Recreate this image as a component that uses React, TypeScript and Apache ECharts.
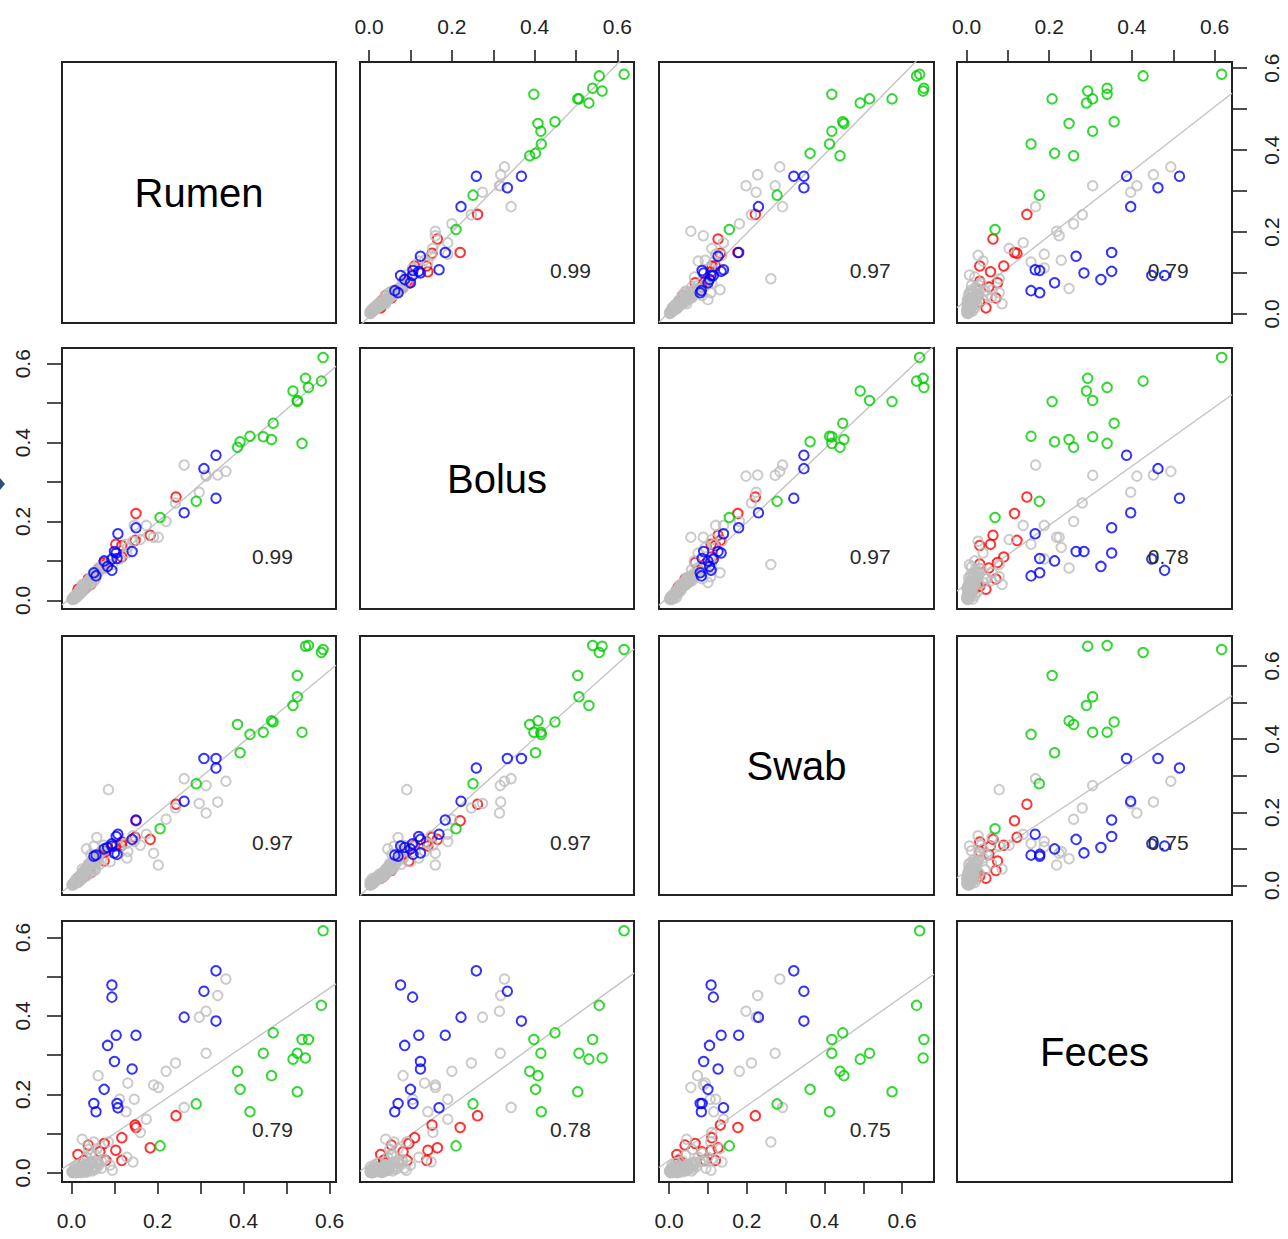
import React, { useEffect, useRef } from 'react';
import * as echarts from 'echarts';

const VARIABLES = ['Rumen', 'Bolus', 'Swab', 'Feces'];

// Correlation labels (symmetric)
const CORR_LABELS = [
  ['', '0.99', '0.97', '0.79'],
  ['0.99', '', '0.97', '0.78'],
  ['0.97', '0.97', '', '0.75'],
  ['0.79', '0.78', '0.75', ''],
];

const TICK_VALUES = [0, 0.1, 0.2, 0.3, 0.4, 0.5, 0.6];
const LABEL_VALUES = [0, 0.2, 0.4, 0.6];
const TICK_LABELS = ['0.0', '0.2', '0.4', '0.6'];

// Axis ranges per variable (Rumen, Bolus, Swab, Feces)
const AXIS_MIN = [-0.022, -0.022, -0.026, -0.023];
const AXIS_MAX = [0.615, 0.64, 0.682, 0.642];

// ---- green group ----
const GREEN_RUMEN = [0.585, 0.581, 0.469, 0.536, 0.551, 0.446, 0.525, 0.515, 0.544, 0.386, 0.465, 0.392, 0.525, 0.415, 0.29, 0.206];
const GREEN_BOLUS = [0.616, 0.556, 0.449, 0.398, 0.54, 0.415, 0.507, 0.531, 0.563, 0.388, 0.408, 0.402, 0.504, 0.416, 0.251, 0.21];
const GREEN_SWAB = [0.645, 0.637, 0.447, 0.419, 0.656, 0.419, 0.516, 0.492, 0.654, 0.44, 0.45, 0.363, 0.574, 0.413, 0.278, 0.155];
const GREEN_FECES = [0.617, 0.427, 0.357, 0.34, 0.34, 0.305, 0.305, 0.29, 0.293, 0.259, 0.248, 0.213, 0.207, 0.156, 0.176, 0.069];

// ---- blue group ----
const BLUE_RUMEN = [0.336, 0.094, 0.094, 0.308, 0.262, 0.336, 0.104, 0.15, 0.084, 0.1, 0.141, 0.076, 0.052, 0.057, 0.106, 0.108];
const BLUE_BOLUS = [0.259, 0.076, 0.105, 0.334, 0.222, 0.368, 0.12, 0.184, 0.086, 0.124, 0.124, 0.1, 0.07, 0.062, 0.106, 0.169];
const BLUE_SWAB = [0.321, 0.108, 0.114, 0.347, 0.23, 0.347, 0.134, 0.179, 0.104, 0.089, 0.126, 0.1, 0.08, 0.083, 0.085, 0.14];
const BLUE_FECES = [0.515, 0.479, 0.448, 0.463, 0.397, 0.387, 0.351, 0.351, 0.325, 0.284, 0.265, 0.213, 0.177, 0.156, 0.177, 0.166];

// ---- red group ----
const RED_RUMEN = [0.243, 0.148, 0.15, 0.117, 0.183, 0.076, 0.039, 0.103, 0.066, 0.117, 0.08, 0.015, 0.029, 0.01, 0.02, 0.032, 0.045];
const RED_BOLUS = [0.262, 0.152, 0.22, 0.11, 0.165, 0.096, 0.054, 0.142, 0.082, 0.139, 0.092, 0.028, 0.035, 0.012, 0.025, 0.03, 0.04];
const RED_SWAB = [0.222, 0.132, 0.177, 0.11, 0.126, 0.067, 0.041, 0.108, 0.084, 0.119, 0.093, 0.02, 0.025, 0.01, 0.02, 0.028, 0.035];
const RED_FECES = [0.146, 0.122, 0.116, 0.09, 0.064, 0.075, 0.071, 0.058, 0.054, 0.032, 0.032, 0.047, 0.032, 0.005, 0.012, 0.02, 0.025];

// ---- gray group ----
const GRAY_RUMEN = [
  0.359, 0.34, 0.313, 0.297, 0.313, 0.242, 0.22, 0.062, 0.131, 0.191, 0.202, 0.112, 0.146, 0.127, 0.262, 0.174,
  0.16, 0.086, 0.025, 0.052, 0.059, 0.143, 0.129, 0.04, 0.07, 0.09, 0.056, 0.095, 0.035, 0.045,
  0.002, 0.004, 0.006, 0.008, 0.01, 0.012, 0.014, 0.016, 0.018, 0.02, 0.022, 0.024, 0.026, 0.028, 0.03, 0.033,
  0.036, 0.04, 0.043, 0.046, 0.05, 0.055, 0.06, 0.065, 0.07, 0.075, 0.007, 0.015, 0.025, 0.035, 0.045, 0.052,
  0.003, 0.005, 0.009, 0.011, 0.013, 0.017, 0.019, 0.021, 0.023, 0.027, 0.029, 0.031, 0.034, 0.037, 0.041, 0.044,
  0.048, 0.053, 0.058, 0.062, 0.001, 0.006, 0.012, 0.018,
];
const GRAY_BOLUS = [
  0.327, 0.318, 0.315, 0.274, 0.317, 0.247, 0.2, 0.082, 0.134, 0.16, 0.16, 0.105, 0.19, 0.142, 0.343, 0.19,
  0.154, 0.091, 0.04, 0.06, 0.07, 0.15, 0.12, 0.05, 0.08, 0.1, 0.055, 0.09, 0.045, 0.055,
  0.004, 0.006, 0.008, 0.01, 0.012, 0.015, 0.018, 0.02, 0.022, 0.026, 0.028, 0.03, 0.034, 0.036, 0.04, 0.043,
  0.046, 0.05, 0.055, 0.058, 0.062, 0.068, 0.072, 0.078, 0.085, 0.08, 0.003, 0.012, 0.022, 0.032, 0.04, 0.048,
  0.002, 0.004, 0.007, 0.013, 0.01, 0.016, 0.024, 0.018, 0.03, 0.025, 0.038, 0.035, 0.04, 0.044, 0.047, 0.052,
  0.057, 0.06, 0.066, 0.07, 0.003, 0.009, 0.008, 0.014,
];
const GRAY_SWAB = [
  0.285, 0.228, 0.198, 0.224, 0.273, 0.212, 0.181, 0.073, 0.093, 0.088, 0.056, 0.106, 0.12, 0.115, 0.292, 0.14,
  0.11, 0.262, 0.045, 0.107, 0.131, 0.136, 0.075, 0.06, 0.09, 0.065, 0.043, 0.108, 0.1, 0.085,
  0.003, 0.005, 0.006, 0.009, 0.014, 0.012, 0.017, 0.022, 0.02, 0.025, 0.03, 0.028, 0.035, 0.038, 0.042, 0.045,
  0.05, 0.055, 0.06, 0.048, 0.065, 0.07, 0.08, 0.058, 0.095, 0.11, 0.011, 0.008, 0.018, 0.026, 0.035, 0.04,
  0.004, 0.002, 0.008, 0.01, 0.015, 0.013, 0.018, 0.024, 0.022, 0.031, 0.027, 0.036, 0.03, 0.041, 0.052, 0.046,
  0.058, 0.05, 0.062, 0.068, 0.001, 0.004, 0.019, 0.011,
];
const GRAY_FECES = [
  0.494, 0.452, 0.412, 0.397, 0.305, 0.28, 0.259, 0.248, 0.229, 0.224, 0.218, 0.188, 0.188, 0.156, 0.167, 0.137,
  0.103, 0.079, 0.086, 0.079, 0.062, 0.028, 0.04, 0.06, 0.03, 0.02, 0.045, 0.007, 0.04, 0.05,
  0.001, 0.003, 0.002, 0.004, 0.006, 0.003, 0.008, 0.005, 0.01, 0.007, 0.012, 0.004, 0.015, 0.009, 0.018, 0.006,
  0.02, 0.013, 0.024, 0.01, 0.028, 0.016, 0.03, 0.022, 0.012, 0.035, 0.015, 0.02, 0.026, 0.002, 0.03, 0.008,
  0.002, 0.006, 0.001, 0.009, 0.002, 0.012, 0.004, 0.014, 0.001, 0.011, 0.019, 0.003, 0.013, 0.007, 0.016, 0.021,
  0.005, 0.017, 0.01, 0.025, 0.004, 0.01, 0.001, 0.003,
];

const GROUPS = [
  { name: 'red', color: '#FF0000', values: [RED_RUMEN, RED_BOLUS, RED_SWAB, RED_FECES] },
  { name: 'gray', color: '#BEBEBE', values: [GRAY_RUMEN, GRAY_BOLUS, GRAY_SWAB, GRAY_FECES] },
  { name: 'blue', color: '#0000FF', values: [BLUE_RUMEN, BLUE_BOLUS, BLUE_SWAB, BLUE_FECES] },
  { name: 'green', color: '#00CD00', values: [GREEN_RUMEN, GREEN_BOLUS, GREEN_SWAB, GREEN_FECES] },
];

// panel layout (pixels)
const COL_LEFT = [62, 360, 659, 957];
const COL_WIDTH = [274, 274, 275, 275];
const ROW_TOP = [62, 348, 636, 921];
const ROW_HEIGHT = [261, 261, 259, 261];

const FONT = '"Liberation Sans", Arial, sans-serif';
const INK = '#222222';

function pooled(v: number): number[] {
  const out: number[] = [];
  GROUPS.forEach((g) => out.push(...g.values[v]));
  return out;
}

function fitLine(yVar: number, xVar: number) {
  const xs = pooled(xVar);
  const ys = pooled(yVar);
  const n = xs.length;
  const mx = xs.reduce((a, b) => a + b, 0) / n;
  const my = ys.reduce((a, b) => a + b, 0) / n;
  let sxy = 0;
  let sxx = 0;
  for (let k = 0; k < n; k++) {
    sxy += (xs[k] - mx) * (ys[k] - my);
    sxx += (xs[k] - mx) * (xs[k] - mx);
  }
  const b = sxy / sxx;
  const a = my - b * mx;
  return { a, b };
}

function makeAxis(
  gridIndex: number,
  v: number,
  horizontal: boolean,
  shown: boolean,
  position: string
) {
  return {
    type: 'value',
    gridIndex,
    min: AXIS_MIN[v],
    max: AXIS_MAX[v],
    position,
    show: shown,
    axisLine: { show: false, onZero: false },
    splitLine: { show: false },
    axisTick: {
      show: shown,
      inside: false,
      length: horizontal ? 12 : 15,
      customValues: TICK_VALUES,
      lineStyle: { color: INK, width: 1.6 },
    },
    axisLabel: {
      show: shown,
      customValues: LABEL_VALUES,
      formatter: (val: number) => {
        const idx = LABEL_VALUES.findIndex((x) => Math.abs(x - val) < 1e-6);
        return idx >= 0 ? TICK_LABELS[idx] : '';
      },
      fontSize: 21,
      fontFamily: FONT,
      color: INK,
      rotate: horizontal ? 0 : 90,
      margin: horizontal ? (position === 'top' ? 25 : 28) : 29,
    },
  };
}

export default function App() {
  const ref = useRef<HTMLDivElement>(null);

  useEffect(() => {
    if (!ref.current) return;
    const chart = echarts.init(ref.current, undefined, { renderer: 'svg' });

    const grids: any[] = [];
    const xAxes: any[] = [];
    const yAxes: any[] = [];
    const series: any[] = [];
    const graphics: any[] = [];

    let gi = 0;
    for (let i = 0; i < 4; i++) {
      for (let j = 0; j < 4; j++) {
        grids.push({
          left: COL_LEFT[j],
          top: ROW_TOP[i],
          width: COL_WIDTH[j],
          height: ROW_HEIGHT[i],
          show: true,
          borderColor: INK,
          borderWidth: 2,
          backgroundColor: 'rgba(0,0,0,0)',
        });
        const showBottom = i === 3 && j % 2 === 0;
        const showTop = i === 0 && j % 2 === 1;
        const showLeft = j === 0 && i % 2 === 1;
        const showRight = j === 3 && i % 2 === 0;
        xAxes.push(makeAxis(gi, j, true, showBottom || showTop, showTop ? 'top' : 'bottom'));
        yAxes.push(makeAxis(gi, i, false, showLeft || showRight, showRight ? 'right' : 'left'));

        if (i === j) {
          graphics.push({
            type: 'text',
            x: COL_LEFT[j] + COL_WIDTH[j] / 2,
            y: ROW_TOP[i] + ROW_HEIGHT[i] / 2,
            silent: true,
            style: {
              text: VARIABLES[i],
              fontSize: 40,
              fontFamily: FONT,
              fill: '#000',
              align: 'center',
              verticalAlign: 'middle',
            },
          });
        } else {
          const { a, b } = fitLine(i, j);
          const x0 = AXIS_MIN[j];
          const x1 = AXIS_MAX[j];
          series.push({
            type: 'line',
            xAxisIndex: gi,
            yAxisIndex: gi,
            data: [
              [x0, a + b * x0],
              [x1, a + b * x1],
            ],
            symbol: 'none',
            clip: true,
            silent: true,
            z: 1,
            lineStyle: { color: '#C4C4C4', width: 1.4 },
          });
          GROUPS.forEach((g) => {
            const xs = g.values[j];
            const ys = g.values[i];
            series.push({
              type: 'scatter',
              name: g.name,
              xAxisIndex: gi,
              yAxisIndex: gi,
              data: xs.map((x, k) => [x, ys[k]]),
              symbol: 'circle',
              symbolSize: 9.5,
              clip: true,
              silent: true,
              z: 2,
              itemStyle: {
                color: 'rgba(0,0,0,0)',
                borderColor: g.color,
                borderWidth: 2,
              },
            });
          });
          graphics.push({
            type: 'text',
            x: COL_LEFT[j] + COL_WIDTH[j] * 0.768,
            y: ROW_TOP[i] + ROW_HEIGHT[i] * 0.797,
            silent: true,
            z: 10,
            style: {
              text: CORR_LABELS[i][j],
              fontSize: 21,
              fontFamily: FONT,
              fill: '#2a2a2a',
              align: 'center',
              verticalAlign: 'middle',
            },
          });
        }
        gi++;
      }
    }

    // small marker at the left edge
    graphics.push({
      type: 'polygon',
      silent: true,
      shape: { points: [[0, 478], [5, 484], [0, 490]] },
      style: { fill: '#2F4F7F' },
    });

    chart.setOption({
      animation: false,
      backgroundColor: '#ffffff',
      textStyle: { fontFamily: FONT },
      grid: grids,
      xAxis: xAxes,
      yAxis: yAxes,
      series,
      graphic: graphics,
    });

    return () => {
      chart.dispose();
    };
  }, []);

  return (
    <div
      ref={ref}
      style={{ position: 'fixed', left: 0, top: 0, width: 1288, height: 1239 }}
    />
  );
}
